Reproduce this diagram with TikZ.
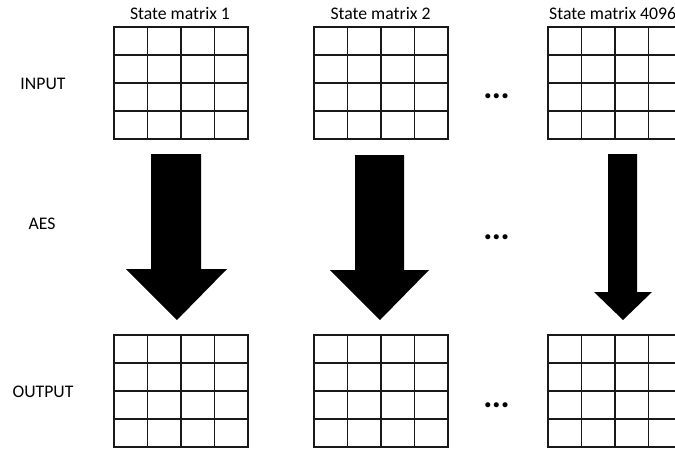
\documentclass[tikz,border=0pt]{standalone}
\usepackage{fontspec}
\setmainfont{Carlito}
\usetikzlibrary{calc}
\newcommand{\pbb}{path picture bounding box}
\begin{document}
\begin{tikzpicture}[x=1pt,y=-1pt,
  gridline/.style={draw=black!90, line width=1.6pt},
  statebox/.style={gridline, inner sep=0pt, minimum width=134pt, minimum height=112pt, anchor=north west,
    path picture={
      \foreach \i in {1,2,3}{
        \draw[gridline] ($(\pbb.north west)!\i/4!(\pbb.north east)$) -- ($(\pbb.south west)!\i/4!(\pbb.south east)$);
        \draw[gridline] ($(\pbb.north west)!\i/4!(\pbb.south west)$) -- ($(\pbb.north east)!\i/4!(\pbb.south east)$);
      }}},
  lbl/.style={font=\fontsize{17.7}{20}\selectfont, anchor=base, inner sep=0pt},
  dots/.style={font=\fontsize{34}{38}\selectfont\bfseries, inner sep=0pt, anchor=base},
  fatarrow/.style={fill=black}]
\useasboundingbox (0,0) rectangle (675,448);
\clip (0,0) rectangle (675,448);

% input matrices
\node[statebox] (in1) at (113,26) {};
\node[statebox] (in2) at (313,26) {};
\node[statebox] (in3) at (547,26) {};
% output matrices
\node[statebox] (out1) at (113,334) {};
\node[statebox] (out2) at (313,334) {};
\node[statebox] (out3) at (547,334) {};

% titles
\node[lbl] (t1) at (180,19.5) {State matrix 1};
\node[lbl] (t2) at (380.5,19.5) {State matrix 2};
\node[lbl, anchor=base west] (t3) at (549,19.5) {State matrix 4096};

% row labels
\node[lbl] (linput) at (43,89) {INPUT};
\node[lbl] (laes) at (42,229) {AES};
\node[lbl] (loutput) at (43,397) {OUTPUT};

% ellipses
\node[dots] (d1) at (496.5,98.5) {.\hspace{-0.5pt}.\hspace{-0.5pt}.};
\node[dots] (d2) at (496.5,239) {.\hspace{-0.5pt}.\hspace{-0.5pt}.};
\node[dots] (d3) at (496.5,407.5) {.\hspace{-0.5pt}.\hspace{-0.5pt}.};

% AES arrows
\fill[fatarrow] (151,154) -- (201,154) -- (201,269) -- (227,269) -- (177,320) -- (126,269) -- (151,269) -- cycle;
\fill[fatarrow] (355,155) -- (404,155) -- (404,270) -- (429,270) -- (380,320) -- (330,270) -- (355,270) -- cycle;
\fill[fatarrow] (608,154) -- (637,154) -- (637,292) -- (652,292) -- (623,320) -- (594,292) -- (608,292) -- cycle;
\end{tikzpicture}
\end{document}
